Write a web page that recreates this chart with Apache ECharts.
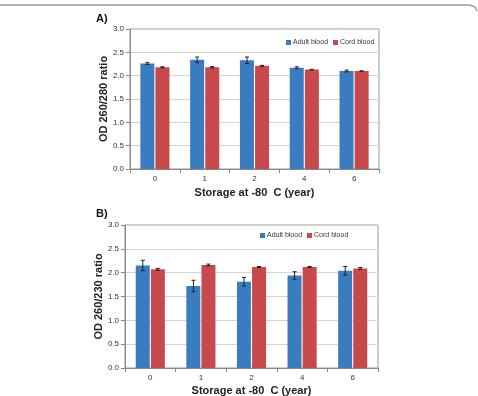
<!DOCTYPE html>
<html>
<head>
<meta charset="utf-8">
<script src="https://cdn.jsdelivr.net/npm/echarts@6/dist/echarts.min.js"></script>
<style>
html, body { margin: 0; padding: 0; background: #fff; }
#main { width: 478px; height: 396px; }
</style>
</head>
<body>
<div id="main"></div>
<script>
var years = ['0', '1', '2', '4', '6'];
var seriesNames = ['Adult blood', 'Cord blood'];

// A) OD 260/280
var adult280 = [2.26, 2.34, 2.33, 2.17, 2.10];
var adult280Err = [0.02, 0.06, 0.07, 0.02, 0.02];
var cord280 = [2.18, 2.18, 2.21, 2.13, 2.10];
var cord280Err = [0.01, 0.015, 0.01, 0.005, 0.005];

// B) OD 260/230
var adult230 = [2.15, 1.72, 1.81, 1.94, 2.04];
var adult230Err = [0.11, 0.12, 0.09, 0.08, 0.09];
var cord230 = [2.07, 2.16, 2.12, 2.12, 2.09];
var cord230Err = [0.02, 0.02, 0.01, 0.01, 0.02];

var blue = '#3a7cc0';
var red = '#c8494b';
var txt = '#333';

var myChart = echarts.init(document.getElementById('main'));

function errData(vals, errs) {
	var out = [];
	for (var i = 0; i < vals.length; i++) {
		out.push([i, vals[i], errs[i]]);
	}
	return out;
}

// draw whisker for one bar, shifted by off pixels from the category centre
function errRender(off) {
	return function(params, api) {
		var x = api.value(0);
		var y = api.value(1);
		var e = api.value(2);
		var hi = api.coord([x, y + e]);
		var lo = api.coord([x, y - e]);
		var cx = hi[0] + off;
		var st = { stroke: '#222', lineWidth: 1 };
		return {
			type: 'group',
			children: [
				{ type: 'line', shape: { x1: cx, y1: hi[1], x2: cx, y2: lo[1] }, style: st },
				{ type: 'line', shape: { x1: cx - 2, y1: hi[1], x2: cx + 2, y2: hi[1] }, style: st },
				{ type: 'line', shape: { x1: cx - 2, y1: lo[1], x2: cx + 2, y2: lo[1] }, style: st }
			]
		};
	};
}

function xAxisCfg(idx, gap) {
	return {
		type: 'category',
		gridIndex: idx,
		data: years,
		name: 'Storage at -80  C (year)',
		nameLocation: 'middle',
		nameGap: gap,
		nameTextStyle: { fontSize: 11, fontWeight: 'bold', color: '#222', fontFamily: 'Liberation Sans' },
		axisLine: { lineStyle: { color: '#888' } },
		axisTick: { show: true, alignWithLabel: false, length: 4, lineStyle: { color: '#888' } },
		axisLabel: { fontSize: 8, color: txt, margin: 6, fontFamily: 'Liberation Sans' }
	};
}

function yAxisCfg(idx, name) {
	return {
		type: 'value',
		gridIndex: idx,
		min: 0,
		max: 3,
		interval: 0.5,
		name: name,
		nameLocation: 'middle',
		nameGap: 21,
		nameMoveOverlap: false,
		nameTextStyle: { fontSize: 11, fontWeight: 'bold', color: '#222', fontFamily: 'Liberation Sans' },
		axisLine: { show: true, lineStyle: { color: '#888' } },
		axisTick: { show: true, length: 4, lineStyle: { color: '#888' } },
		axisLabel: {
			fontSize: 8, color: txt, margin: 6, fontFamily: 'Liberation Sans',
			formatter: function(v) { return v.toFixed(1); }
		},
		splitLine: { lineStyle: { color: '#d4d4d4' } }
	};
}

function barCfg(name, idx, data, color) {
	return {
		name: name,
		type: 'bar',
		xAxisIndex: idx,
		yAxisIndex: idx,
		data: data,
		barWidth: 14,
		barGap: '8%',
		itemStyle: { color: color }
	};
}

function errCfg(idx, vals, errs, off) {
	return {
		type: 'custom',
		xAxisIndex: idx,
		yAxisIndex: idx,
		data: errData(vals, errs),
		renderItem: errRender(off),
		z: 10,
		silent: true
	};
}

var legendBase = {
	data: seriesNames,
	icon: 'rect',
	itemWidth: 5,
	itemHeight: 5,
	itemGap: 5,
	textStyle: { fontSize: 7, color: txt, fontFamily: 'Liberation Sans', padding: [0, 0, 0, -3] }
};

var option = {
	animation: false,
	textStyle: { fontFamily: 'Liberation Sans' },
	title: [
		{ text: 'A)', left: 91, top: 8, textStyle: { fontSize: 11, fontWeight: 'bold', color: '#111' } },
		{ text: 'B)', left: 91, top: 203, textStyle: { fontSize: 11, fontWeight: 'bold', color: '#111' } }
	],
	legend: [
		Object.assign({}, legendBase, { left: 281, top: 34 }),
		Object.assign({}, legendBase, { left: 255, top: 227 })
	],
	grid: [
		{ left: 130, top: 29, width: 249, height: 140, show: true, borderColor: '#999', borderWidth: 1, outerBoundsMode: 'none' },
		{ left: 125, top: 225, width: 253, height: 143, show: true, borderColor: '#999', borderWidth: 1, outerBoundsMode: 'none' }
	],
	xAxis: [xAxisCfg(0, 18), xAxisCfg(1, 17)],
	yAxis: [yAxisCfg(0, 'OD 260/280 ratio'), yAxisCfg(1, 'OD 260/230 ratio')],
	series: [
		barCfg('Adult blood', 0, adult280, blue),
		barCfg('Cord blood', 0, cord280, red),
		barCfg('Adult blood', 1, adult230, blue),
		barCfg('Cord blood', 1, cord230, red),
		errCfg(0, adult280, adult280Err, -7.5),
		errCfg(0, cord280, cord280Err, 7.5),
		errCfg(1, adult230, adult230Err, -7.5),
		errCfg(1, cord230, cord230Err, 7.5)
	],
	graphic: [
		{
			type: 'polyline',
			shape: { points: [[0, 5], [470, 5], [475, 7], [477, 11]] },
			style: { stroke: '#999', lineWidth: 1.5, fill: null }
		}
	]
};

myChart.setOption(option);
</script>
</body>
</html>
